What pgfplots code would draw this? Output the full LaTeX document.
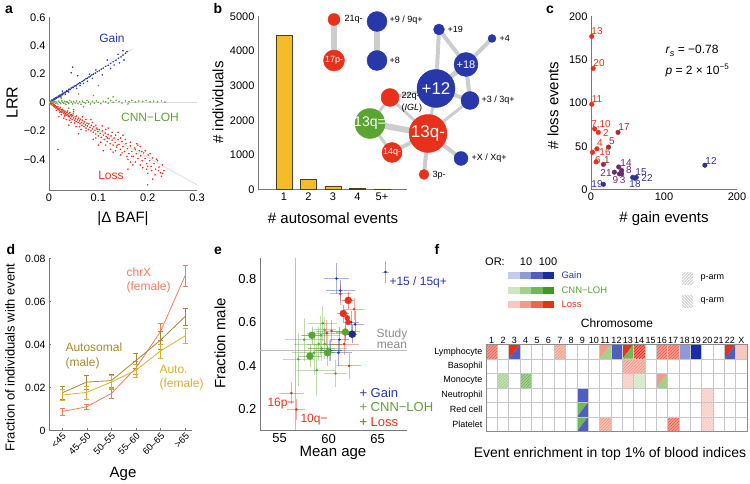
\documentclass[border=0pt]{standalone}
\usepackage{fontspec}
\setmainfont{Liberation Sans}
\usepackage{pgfplots}
\pgfplotsset{compat=1.18}
\usetikzlibrary{patterns}
\definecolor{cgain}{RGB}{40,55,170}
\definecolor{cloh}{RGB}{90,165,50}
\definecolor{closs}{RGB}{232,48,26}
\definecolor{cbar}{RGB}{245,188,40}
\definecolor{cbaredge}{RGB}{80,62,20}
\definecolor{cedge}{RGB}{205,205,205}
\definecolor{cax}{RGB}{120,120,120}
\definecolor{cmaroon}{RGB}{165,40,60}
\definecolor{cpurp}{RGB}{110,40,110}
\definecolor{cbpurp}{RGB}{50,50,150}
\definecolor{cchrx}{RGB}{240,125,95}
\definecolor{cautm}{RGB}{168,137,45}
\definecolor{cautf}{RGB}{218,175,45}
\definecolor{g1}{HTML}{C5CBEA}\definecolor{g2}{HTML}{8E9AD8}\definecolor{g3}{HTML}{4E5FC0}\definecolor{g4}{HTML}{1B2BA5}
\definecolor{l1}{HTML}{CDE6C0}\definecolor{l2}{HTML}{A3D08C}\definecolor{l3}{HTML}{72B858}\definecolor{l4}{HTML}{3E9A20}
\definecolor{r1}{HTML}{F8C8C0}\definecolor{r2}{HTML}{F39A88}\definecolor{r3}{HTML}{EE6550}\definecolor{r4}{HTML}{E8301A}
\newcommand{\fs}[1]{\fontsize{#1}{#1}\selectfont}
\newcommand{\sq}[5]{\addplot[draw=none, fill=#5] coordinates {(#1,#3) (#2,#3) (#2,#4) (#1,#4)} --cycle;}
\newcommand{\sqh}[5]{\addplot[draw=none, fill=#5, postaction={pattern=north east lines, pattern color=white!70!#5}] coordinates {(#1,#3) (#2,#3) (#2,#4) (#1,#4)} --cycle;}
\newcommand{\ul}[5]{\addplot[draw=none, fill=#5] coordinates {(#1,#4) (#2,#4) (#1,#3)} --cycle;}
\newcommand{\lr}[5]{\addplot[draw=none, fill=#5] coordinates {(#2,#4) (#2,#3) (#1,#3)} --cycle;}
\pgfplotsset{
 panel/.style={scale only axis, anchor=south west, axis lines*=left,
   axis line style={draw=cax, line width=0.9pt}, major tick length=0pt, minor tick length=0pt,
   /pgf/number format/assume math mode=true, /pgf/number format/1000 sep={},
   scaled ticks=false, tick label style={font=\fs{11}}, clip=false},
 edge/.style={cedge, line width=#1pt},
 canvas/.style={at={(0pt,0pt)}, anchor=south west, scale only axis, width=750pt, height=483pt,
  xmin=0, xmax=750, ymin=0, ymax=483, y dir=reverse, hide axis, clip=false},
}
\begin{document}
\begin{tikzpicture}
\path (0pt,0pt) rectangle (750pt,483pt);
%================ canvas (pixel coordinates) ================
\begin{axis}[canvas]
% panel letters
\node[font=\fs{14}\bfseries] at (axis cs:9,9) {a};
\node[font=\fs{14}\bfseries] at (axis cs:218,8) {b};
\node[font=\fs{14}\bfseries] at (axis cs:550,9) {c};
\node[font=\fs{14}\bfseries] at (axis cs:11,249) {d};
\node[font=\fs{14}\bfseries] at (axis cs:218,250) {e};
\node[font=\fs{14}\bfseries] at (axis cs:437,249) {f};
% axis labels
\node[font=\fs{16}, rotate=90] at (axis cs:12,102) {LRR};
\node[font=\fs{15}] at (axis cs:123,218) {|Δ BAF|};
\node[font=\fs{15}, rotate=90] at (axis cs:218,102) {\# individuals};
\node[font=\fs{15}] at (axis cs:333,218) {\# autosomal events};
\node[font=\fs{15}, rotate=90] at (axis cs:553,105) {\# loss events};
\node[font=\fs{15}] at (axis cs:664,218) {\# gain events};
\node[font=\fs{13}, rotate=90] at (axis cs:10,357) {Fraction of individuals with event};
\node[font=\fs{15}] at (axis cs:123,473) {Age};
\node[font=\fs{15}, rotate=90] at (axis cs:220,343) {Fraction male};
\node[font=\fs{15}] at (axis cs:333,452) {Mean age};
\node[font=\fs{12}] at (axis cs:617,323) {Chromosome};
\node[font=\fs{14}] at (axis cs:610,453) {Event enrichment in top 1\% of blood indices};
% panel a texts
\node[font=\fs{12}, text=cgain] at (axis cs:112,38) {Gain};
\node[font=\fs{12}, text=cloh] at (axis cs:150,117) {CNN−LOH};
\node[font=\fs{12}, text=closs] at (axis cs:111,175) {Loss};
% network edges
\addplot[edge=6] coordinates {(334,19) (334,60)};
\addplot[edge=6] coordinates {(377,21) (377,60)};
\addplot[edge=4] coordinates {(439,29) (436,88)};
\addplot[edge=4] coordinates {(439,29) (466,64)};
\addplot[edge=4] coordinates {(492,38) (466,64)};
\addplot[edge=5] coordinates {(466,64) (436,88)};
\addplot[edge=4] coordinates {(466,64) (470,100)};
\addplot[edge=4] coordinates {(436,88) (470,100)};
\addplot[edge=3] coordinates {(436,88) (390,97)};
\addplot[edge=3] coordinates {(436,88) (428,133)};
\addplot[edge=3] coordinates {(390,97) (370,123)};
\addplot[edge=3] coordinates {(390,97) (428,133)};
\addplot[edge=6] coordinates {(370,123) (428,133)};
\addplot[edge=3] coordinates {(370,123) (392,152)};
\addplot[edge=4] coordinates {(392,152) (428,133)};
\addplot[edge=4] coordinates {(428,133) (461,158)};
\addplot[edge=4] coordinates {(428,133) (424,174)};
\addplot[edge=3] coordinates {(428,133) (470,100)};
% network nodes
\addplot[only marks, mark=*, closs, mark size=6pt] coordinates {(334,19)};
\addplot[only marks, mark=*, closs, mark size=10.5pt] coordinates {(334,60)};
\addplot[only marks, mark=*, cgain, mark size=10pt] coordinates {(377,21) (377,60)};
\addplot[only marks, mark=*, cgain, mark size=5.5pt] coordinates {(439,29)};
\addplot[only marks, mark=*, cgain, mark size=4pt] coordinates {(492,38)};
\addplot[only marks, mark=*, cgain, mark size=12pt] coordinates {(466,64)};
\addplot[only marks, mark=*, cgain, mark size=19pt] coordinates {(436,88)};
\addplot[only marks, mark=*, cgain, mark size=9pt] coordinates {(470,100)};
\addplot[only marks, mark=*, closs, mark size=9pt] coordinates {(390,97)};
\addplot[only marks, mark=*, cloh, mark size=15pt] coordinates {(370,123)};
\addplot[only marks, mark=*, closs, mark size=19pt] coordinates {(428,133)};
\addplot[only marks, mark=*, closs, mark size=10pt] coordinates {(392,152)};
\addplot[only marks, mark=*, cgain, mark size=7pt] coordinates {(461,158)};
\addplot[only marks, mark=*, closs, mark size=5pt] coordinates {(424,174)};
% network labels (outside nodes)
\node[font=\fs{9}, anchor=west] at (axis cs:341,19) {21q-};
\node[font=\fs{9}, anchor=west] at (axis cs:386,20) {+9 / 9q+};
\node[font=\fs{9}, anchor=west] at (axis cs:386,60) {+8};
\node[font=\fs{9}, anchor=west] at (axis cs:444,29) {+19};
\node[font=\fs{9}, anchor=west] at (axis cs:496,38) {+4};
\node[font=\fs{9}, anchor=west] at (axis cs:478,100) {+3 / 3q+};
\node[font=\fs{9}, anchor=west] at (axis cs:398,96) {22q-};
\node[font=\fs{9}, anchor=west] at (axis cs:398,108) {(\textit{IGL})};
\node[font=\fs{9}, anchor=west] at (axis cs:468,158) {+X / Xq+};
\node[font=\fs{9}, anchor=west] at (axis cs:429,175) {3p-};
% panel c annotations
\node[font=\fs{12}, anchor=west] at (axis cs:662,50) {\textit{r}\raisebox{-0.5ex}{\fs{9}\textit{s}} = −0.78};
\node[font=\fs{12}, anchor=west] at (axis cs:662,70) {\textit{p} = 2 × 10\raisebox{0.8ex}{\fs{8}−5}};
\node[font=\fs{10}, text=closs] at (axis cs:597,31) {13};
\node[font=\fs{10}, text=closs] at (axis cs:599,63) {20};
\node[font=\fs{10}, text=closs] at (axis cs:597,99) {11};
\node[font=\fs{10}, text=closs] at (axis cs:601,124) {7,10};
\node[font=\fs{10}, text=closs] at (axis cs:606,133) {2};
\node[font=\fs{10}, text=cmaroon] at (axis cs:624,127) {17};
\node[font=\fs{10}, text=closs] at (axis cs:600,143) {4};
\node[font=\fs{10}, text=cmaroon] at (axis cs:612,141) {5};
\node[font=\fs{10}, text=closs] at (axis cs:605,152) {16};
\node[font=\fs{10}, text=closs] at (axis cs:598,160) {6};
\node[font=\fs{10}, text=cmaroon] at (axis cs:607,160) {1};
\node[font=\fs{10}, text=cpurp] at (axis cs:626,163) {14};
\node[font=\fs{10}, text=cpurp] at (axis cs:606,173) {21};
\node[font=\fs{10}, text=cpurp] at (axis cs:629,170) {8};
\node[font=\fs{10}, text=cpurp] at (axis cs:619,180) {9\,3};
\node[font=\fs{10}, text=cbpurp] at (axis cs:641,172) {15};
\node[font=\fs{10}, text=cbpurp] at (axis cs:647,178) {22};
\node[font=\fs{10}, text=cbpurp] at (axis cs:635,184) {18};
\node[font=\fs{10}, text=cbpurp] at (axis cs:597,184) {19};
\node[font=\fs{10}, text=cbpurp] at (axis cs:711,161) {12};
% panel d labels
\node[font=\fs{12}, text=cchrx, anchor=west] at (axis cs:123,272) {chrX};
\node[font=\fs{12}, text=cchrx, anchor=west] at (axis cs:123,287) {(female)};
\node[font=\fs{12}, text=cautm, anchor=west] at (axis cs:62,347) {Autosomal};
\node[font=\fs{12}, text=cautm, anchor=west] at (axis cs:62,363) {(male)};
\node[font=\fs{12}, text=cautf, anchor=west] at (axis cs:156,369) {Auto.};
\node[font=\fs{12}, text=cautf, anchor=west] at (axis cs:156,384) {(female)};
% panel e labels
\node[font=\fs{12}, text=cgain, anchor=west] at (axis cs:386,282) {+15 / 15q+};
\node[font=\fs{12}, text=closs, anchor=west] at (axis cs:264,403) {16p−};
\node[font=\fs{12}, text=closs, anchor=west] at (axis cs:297,419) {10q−};
\node[font=\fs{12}, text=black!45, align=center] at (axis cs:392,338) {Study\\[-1pt]mean};
\node[font=\fs{13}, text=cgain, anchor=west] at (axis cs:356,392) {+ Gain};
\node[font=\fs{13}, text=cloh, anchor=west] at (axis cs:356,407) {+ CNN−LOH};
\node[font=\fs{13}, text=closs, anchor=west] at (axis cs:356,422) {+ Loss};
% panel f legend
\node[font=\fs{11}] at (axis cs:495,261) {OR:};
\node[font=\fs{11}] at (axis cs:526,261) {10};
\node[font=\fs{11}] at (axis cs:548,261) {100};
\sq{508}{519.5}{272}{279}{g1}\sq{519.5}{531}{272}{279}{g2}\sq{531}{542.5}{272}{279}{g3}\sq{542.5}{554}{272}{279}{g4}
\sq{508}{519.5}{287}{294}{l1}\sq{519.5}{531}{287}{294}{l2}\sq{531}{542.5}{287}{294}{l3}\sq{542.5}{554}{287}{294}{l4}
\sq{508}{519.5}{301}{308}{r1}\sq{519.5}{531}{301}{308}{r2}\sq{531}{542.5}{301}{308}{r3}\sq{542.5}{554}{301}{308}{r4}
\node[font=\fs{9.5}, text=cgain, anchor=west] at (axis cs:558,275) {Gain};
\node[font=\fs{9.5}, text=cloh, anchor=west] at (axis cs:558,290) {CNN−LOH};
\node[font=\fs{9.5}, text=closs, anchor=west] at (axis cs:558,304) {Loss};
\addplot[draw=none, pattern=north east lines, pattern color=black!30] coordinates {(682,272) (693,272) (693,284) (682,284)} --cycle;
\addplot[draw=none, pattern=north west lines, pattern color=black!30] coordinates {(682,295) (693,295) (693,307) (682,307)} --cycle;
\node[font=\fs{9}, anchor=west] at (axis cs:697,278) {p-arm};
\node[font=\fs{9}, anchor=west] at (axis cs:697,301) {q-arm};
\end{axis}
%================ panel a ================
\begin{axis}[panel, at={(49pt,293pt)}, width=148pt, height=173pt,
  xmin=0, xmax=0.3, ymin=-0.62, ymax=0.6,
  xtick={0,0.1,0.2,0.3}, xticklabels={0,0.1,0.2,0.3},
  ytick={-0.4,-0.2,0,0.2,0.4,0.6}, yticklabels={−0.4,−0.2,0,0.2,0.4,0.6}]
\addplot[black!15, line width=0.7pt] coordinates {(0,0) (0.3,-0.58)};
\addplot[black!15, line width=0.7pt] coordinates {(0,0) (0.3,0)};
\addplot[black!15, line width=0.7pt] coordinates {(0,0) (0.17,0.38)};
\addplot[only marks, mark=*, mark size=0.55pt, cloh] table {
0.003 0.002
0.006 -0.004
0.008 0.006
0.010 -0.002
0.012 0.008
0.014 -0.006
0.016 0.004
0.018 -0.010
0.020 0.010
0.022 0.000
0.024 -0.008
0.026 0.012
0.028 0.003
0.030 -0.005
0.032 0.009
0.034 -0.012
0.036 0.006
0.038 0.002
0.040 -0.007
0.042 0.014
0.045 0.004
0.048 -0.010
0.050 0.008
0.053 -0.003
0.056 0.011
0.059 -0.008
0.062 0.006
0.065 -0.012
0.068 0.010
0.071 0.001
0.074 -0.006
0.077 0.015
0.080 0.004
0.084 -0.010
0.088 0.009
0.092 -0.004
0.096 0.012
0.100 0.002
0.105 -0.008
0.110 0.010
0.115 0.005
0.120 -0.006
0.125 0.013
0.130 0.003
0.136 0.016
0.142 0.008
0.148 -0.004
0.155 0.012
0.162 0.006
0.168 0.015
0.175 0.004
0.182 0.011
0.190 0.008
0.197 0.014
0.205 0.005
0.212 0.010
0.220 0.006
0.228 0.012
0.235 0.004
0.060 0.060
0.040 -0.040
0.090 0.050
0.025 0.030
0.100 0.120
0.070 -0.030
0.130 0.040
0.050 -0.050
0.160 -0.010
0.120 0.030
};
\addplot[only marks, mark=*, mark size=0.55pt, cgain] table {
0.004 0.010
0.006 0.018
0.008 0.014
0.009 0.024
0.011 0.028
0.012 0.020
0.013 0.033
0.015 0.030
0.016 0.038
0.018 0.036
0.019 0.045
0.021 0.042
0.022 0.052
0.024 0.050
0.025 0.058
0.027 0.055
0.028 0.066
0.030 0.062
0.031 0.072
0.033 0.070
0.035 0.078
0.036 0.083
0.038 0.080
0.040 0.090
0.041 0.095
0.043 0.092
0.045 0.102
0.047 0.108
0.049 0.105
0.051 0.115
0.053 0.120
0.055 0.118
0.057 0.128
0.060 0.133
0.062 0.140
0.064 0.137
0.067 0.148
0.070 0.155
0.072 0.160
0.075 0.168
0.078 0.172
0.081 0.180
0.084 0.186
0.087 0.195
0.090 0.200
0.094 0.208
0.098 0.218
0.102 0.224
0.106 0.236
0.110 0.243
0.115 0.255
0.120 0.262
0.125 0.275
0.130 0.288
0.136 0.298
0.141 0.312
0.146 0.322
0.150 0.335
0.155 0.348
0.158 0.360
0.048 0.250
0.045 0.210
0.058 0.190
0.070 0.135
0.088 0.170
0.095 0.230
0.118 0.300
0.132 0.265
0.143 0.280
0.150 0.365
0.152 0.300
0.108 0.195
0.078 0.150
0.063 0.120
0.033 0.058
0.024 0.040
0.056 0.100
0.082 0.200
0.125 0.240
0.140 0.340
0.027 0.080
0.040 0.075
};
\addplot[only marks, mark=*, mark size=0.55pt, closs] table {
0.003 -0.008
0.005 -0.015
0.006 -0.005
0.008 -0.020
0.009 -0.012
0.010 -0.028
0.011 -0.018
0.012 -0.032
0.013 -0.024
0.014 -0.040
0.015 -0.030
0.016 -0.036
0.017 -0.045
0.018 -0.028
0.019 -0.050
0.020 -0.040
0.021 -0.058
0.022 -0.046
0.023 -0.035
0.024 -0.062
0.025 -0.052
0.026 -0.070
0.027 -0.048
0.028 -0.060
0.029 -0.075
0.030 -0.056
0.031 -0.068
0.032 -0.082
0.033 -0.062
0.034 -0.078
0.035 -0.090
0.036 -0.070
0.037 -0.085
0.038 -0.060
0.039 -0.095
0.040 -0.080
0.041 -0.100
0.042 -0.072
0.043 -0.090
0.044 -0.110
0.045 -0.085
0.046 -0.098
0.047 -0.120
0.048 -0.092
0.049 -0.080
0.050 -0.108
0.052 -0.125
0.053 -0.100
0.054 -0.115
0.055 -0.135
0.056 -0.095
0.058 -0.122
0.059 -0.140
0.060 -0.110
0.062 -0.130
0.063 -0.150
0.064 -0.118
0.066 -0.140
0.067 -0.160
0.068 -0.125
0.070 -0.148
0.071 -0.170
0.072 -0.135
0.074 -0.158
0.075 -0.180
0.077 -0.145
0.078 -0.165
0.080 -0.190
0.081 -0.150
0.083 -0.175
0.085 -0.200
0.086 -0.160
0.088 -0.185
0.090 -0.210
0.091 -0.170
0.093 -0.195
0.095 -0.222
0.097 -0.180
0.099 -0.205
0.100 -0.235
0.102 -0.190
0.104 -0.218
0.106 -0.245
0.108 -0.200
0.110 -0.230
0.112 -0.260
0.114 -0.215
0.116 -0.240
0.118 -0.275
0.120 -0.225
0.122 -0.255
0.124 -0.290
0.126 -0.235
0.128 -0.265
0.130 -0.300
0.132 -0.250
0.134 -0.280
0.137 -0.315
0.140 -0.260
0.142 -0.295
0.145 -0.330
0.148 -0.275
0.150 -0.310
0.153 -0.345
0.156 -0.290
0.159 -0.325
0.162 -0.360
0.165 -0.305
0.168 -0.345
0.171 -0.380
0.174 -0.320
0.177 -0.360
0.180 -0.395
0.183 -0.340
0.186 -0.375
0.189 -0.410
0.192 -0.355
0.195 -0.395
0.198 -0.430
0.201 -0.370
0.204 -0.410
0.207 -0.450
0.210 -0.390
0.213 -0.430
0.216 -0.470
0.220 -0.410
0.223 -0.455
0.226 -0.495
0.230 -0.440
0.233 -0.480
0.020 -0.100
0.040 -0.160
0.060 -0.220
0.100 -0.300
0.120 -0.180
0.150 -0.230
0.180 -0.300
0.200 -0.500
0.085 -0.120
0.050 -0.065
0.030 -0.110
0.130 -0.350
0.170 -0.440
0.210 -0.540
0.110 -0.340
0.090 -0.260
0.065 -0.190
0.140 -0.210
0.025 -0.085
0.045 -0.140
0.035 -0.120
0.055 -0.170
0.075 -0.120
0.095 -0.160
0.105 -0.280
0.115 -0.190
0.125 -0.330
0.135 -0.230
0.145 -0.370
0.155 -0.260
0.160 -0.400
0.165 -0.280
0.175 -0.420
0.185 -0.310
0.190 -0.460
0.195 -0.340
0.200 -0.450
0.205 -0.360
0.215 -0.510
0.218 -0.400
0.222 -0.480
0.228 -0.520
0.185 -0.440
0.175 -0.330
0.165 -0.420
0.145 -0.250
0.135 -0.340
0.115 -0.300
0.095 -0.250
0.075 -0.200
0.062 -0.170
0.052 -0.145
0.042 -0.125
0.032 -0.095
0.022 -0.070
0.015 -0.055
0.068 -0.100
0.088 -0.140
0.108 -0.165
0.128 -0.210
0.148 -0.355
0.168 -0.380
0.188 -0.345
0.208 -0.480
0.198 -0.470
0.178 -0.290
0.158 -0.380
0.138 -0.300
0.118 -0.250
0.098 -0.190
0.018 -0.330
0.200 -0.580
0.160 -0.470
0.230 -0.500
};
\end{axis}
%================ panel b ================
\begin{axis}[panel, at={(258pt,294pt)}, width=149pt, height=173pt,
  xmin=-0.06, xmax=6.02, ymin=0, ymax=5000, ytick={0,1000,...,5000},
  xtick={1,2,3,4,5}, xticklabels={1,2,3,4,5+}]
\addplot[ybar, bar width=16pt, fill=cbar, draw=cbaredge, line width=0.6pt] coordinates {(1,4450) (2,280) (3,105) (4,30) (5,15)};
\end{axis}
%================ panel c ================
\begin{axis}[panel, at={(591pt,294pt)}, width=146pt, height=173pt,
  xmin=0, xmax=200, ymin=0, ymax=200, xtick={0,100,200}, ytick={0,50,...,200}]
\addplot[only marks, mark=*, mark size=2.3pt, closs] coordinates {(1,177) (3,140) (1,98.5) (5,70) (10,66) (8,47) (2,43) (7,32)};
\addplot[only marks, mark=*, mark size=2.3pt, cmaroon] coordinates {(37,66) (24,49) (17,29)};
\addplot[only marks, mark=*, mark size=2.3pt, cpurp] coordinates {(38,26) (32,20) (42,22) (39,18) (42,18)};
\addplot[only marks, mark=*, mark size=2.3pt, cbpurp] coordinates {(57,14) (62,14) (60,13) (17,6) (156,28)};
\end{axis}
%================ panel d ================
\begin{axis}[panel, at={(49pt,53pt)}, width=143pt, height=172pt,
  xmin=-0.53, xmax=5.28, ymin=0, ymax=0.08,
  ytick={0,0.02,0.04,0.06,0.08}, yticklabels={0,0.02,0.04,0.06,0.08},
  xtick={0,...,5}, xticklabels={<45,45–50,50–55,55–60,60–65,>65},
  x tick label style={rotate=45, anchor=north east, font=\fs{9.5}, inner sep=1pt}, y tick label style={font=\fs{10.5}},
  xtick style={draw=cax}, major tick length=2pt]
\addplot[cchrx, line width=0.8pt, mark=none, error bars/.cd, y dir=both, y explicit, error mark options={rotate=90, mark size=2.5pt}] table[x=x, y=y, y error=e] {
x y e
0 0.0088 0.0015
1 0.0110 0.0012
2 0.0172 0.0022
3 0.0290 0.0030
4 0.0460 0.0040
5 0.0720 0.0048
};
\addplot[cautm, line width=0.8pt, mark=none, error bars/.cd, y dir=both, y explicit, error mark options={rotate=90, mark size=2.5pt}] table[x=x, y=y, y error=e] {
x y e
0 0.0175 0.0030
1 0.0225 0.0032
2 0.0232 0.0030
3 0.0325 0.0035
4 0.0420 0.0040
5 0.0530 0.0040
};
\addplot[cautf, line width=0.8pt, mark=none, error bars/.cd, y dir=both, y explicit, error mark options={rotate=90, mark size=2.5pt}] table[x=x, y=y, y error=e] {
x y e
0 0.0165 0.0025
1 0.0177 0.0030
2 0.0225 0.0030
3 0.0280 0.0030
4 0.0370 0.0032
5 0.0440 0.0035
};
\end{axis}
%================ panel e ================
\begin{axis}[panel, at={(260pt,53pt)}, width=147pt, height=172pt,
  xmin=53, xmax=68, ymin=0.104, ymax=0.892,
  xtick={55,60,65}, ytick={0.2,0.4,0.6,0.8}, yticklabels={0.2,0.4,0.6,0.8},
  tick label style={font=\fs{13}}]
\addplot[black!25, line width=0.8pt] coordinates {(56.6,0.104) (56.6,0.892)};
\addplot[black!25, line width=0.8pt] coordinates {(53,0.47) (68,0.47)};
\addplot[only marks, mark=*, mark size=1.1pt, cloh, error bars/.cd, x dir=both, x explicit, y dir=both, y explicit, error mark=none, error bar style={cloh, opacity=0.4, line width=0.8pt}] table[x=x, y=y, x error=ex, y error=ey] {
x y ex ey
59.4 0.595 1.5 0.08
59.2 0.54 2.0 0.09
59.6 0.565 1.2 0.06
59.0 0.50 2.5 0.08
59.6 0.50 1.8 0.07
59.9 0.48 2.0 0.08
60.1 0.47 1.5 0.05
60.7 0.365 1.2 0.06
56.9 0.43 1.6 0.12
58.5 0.46 2.2 0.10
59.3 0.48 1.4 0.06
57.5 0.52 2.0 0.10
58.8 0.38 2.0 0.12
};
\addplot[only marks, mark=*, mark size=1.1pt, closs, error bars/.cd, x dir=both, x explicit, y dir=both, y explicit, error mark=none, error bar style={closs, opacity=0.4, line width=0.8pt}] table[x=x, y=y, x error=ex, y error=ey] {
x y ex ey
61.2 0.73 1.1 0.05
62.6 0.66 1.0 0.05
62.1 0.40 1.2 0.06
61.7 0.56 1.5 0.05
60.3 0.56 1.6 0.05
59.8 0.55 2.0 0.06
61.6 0.50 1.5 0.05
56.2 0.275 1.3 0.05
56.7 0.20 0.9 0.05
};
\addplot[only marks, mark=*, mark size=1.1pt, cgain, error bars/.cd, x dir=both, x explicit, y dir=both, y explicit, error mark=none, error bar style={cgain, opacity=0.4, line width=0.8pt}] table[x=x, y=y, x error=ex, y error=ey] {
x y ex ey
60.8 0.80 1.3 0.07
61.2 0.745 1.5 0.05
61.1 0.52 1.0 0.06
61.0 0.46 1.4 0.06
60.2 0.47 1.2 0.05
62.3 0.60 0.8 0.05
62.7 0.59 0.9 0.06
65.8 0.83 0.4 0.05
};
\addplot[only marks, mark=*, mark size=3.5pt, cloh, error bars/.cd, x dir=both, x explicit, y dir=both, y explicit, error mark=none, error bar style={cloh, opacity=0.5, line width=0.8pt}] table[x=x, y=y, x error=ex, y error=ey] {
x y ex ey
58.3 0.54 1.0 0.04
58.1 0.445 1.2 0.05
59.9 0.46 0.8 0.03
61.7 0.555 0.9 0.04
};
\addplot[only marks, mark=*, mark size=3.5pt, closs, error bars/.cd, x dir=both, x explicit, y dir=both, y explicit, error mark=none, error bar style={closs, opacity=0.5, line width=0.8pt}] table[x=x, y=y, x error=ex, y error=ey] {
x y ex ey
62.0 0.70 0.6 0.04
61.5 0.64 0.6 0.04
};
\addplot[only marks, mark=*, mark size=2.5pt, closs] coordinates {(61.9,0.62) (62.0,0.60)};
\addplot[only marks, mark=*, mark size=3.5pt, cgain!80!black, error bars/.cd, x dir=both, x explicit, y dir=both, y explicit, error mark=none, error bar style={cgain, opacity=0.5, line width=0.8pt}] table[x=x, y=y, x error=ex, y error=ey] {
x y ex ey
62.4 0.545 0.5 0.04
};
\end{axis}
%================ panel f heatmap ================
\begin{axis}[scale only axis, anchor=south west, at={(486pt,52pt)}, width=261pt, height=87pt,
  xmin=0.5, xmax=23.5, ymin=0.5, ymax=6.5, axis on top,
  xtick={1,...,23}, xticklabels={1,2,3,4,5,6,7,8,9,10,11,12,13,14,15,16,17,18,19,20,21,22,X},
  xticklabel pos=upper, ytick={1,...,6},
  yticklabels={Platelet,Red cell,Neutrophil,Monocyte,Basophil,Lymphocyte},
  x tick label style={font=\fs{9}, inner sep=1pt}, y tick label style={font=\fs{9}},
  major tick length=0pt, minor tick length=0pt,
  minor xtick={1.5,2.5,...,22.5}, minor ytick={1.5,2.5,...,5.5},
  xminorgrids=true, yminorgrids=true, minor grid style={draw=black!22, line width=0.5pt},
  axis line style={draw=black!45, line width=0.6pt}]
% Lymphocyte (y=6)
\sqh{0.5}{1.5}{5.5}{6.5}{r3}
\ul{2.5}{3.5}{5.5}{6.5}{r4}\lr{2.5}{3.5}{5.5}{6.5}{g3}
\sqh{6.5}{7.5}{5.5}{6.5}{r2}
\ul{10.5}{11.5}{5.5}{6.5}{r2}\lr{10.5}{11.5}{5.5}{6.5}{l2}
\sq{11.5}{12.5}{5.5}{6.5}{g3}
\ul{12.5}{13.5}{5.5}{6.5}{r4}\lr{12.5}{13.5}{5.5}{6.5}{l3}
\sqh{13.5}{14.5}{5.5}{6.5}{r4}
\sqh{15.5}{16.5}{5.5}{6.5}{r3}
\sqh{16.5}{17.5}{5.5}{6.5}{r3}
\sq{17.5}{18.5}{5.5}{6.5}{g2}
\sq{18.5}{19.5}{5.5}{6.5}{g4}
\ul{21.5}{22.5}{5.5}{6.5}{r4}\lr{21.5}{22.5}{5.5}{6.5}{g3}
\sq{22.5}{23.5}{5.5}{6.5}{r1}
% Basophil (y=5)
\sqh{12.5}{13.5}{4.5}{5.5}{r2}
\sqh{13.5}{14.5}{4.5}{5.5}{r2}
% Monocyte (y=4)
\sqh{1.5}{2.5}{3.5}{4.5}{l2}
\sqh{3.5}{4.5}{3.5}{4.5}{l3}
\sqh{12.5}{13.5}{3.5}{4.5}{r1}
\sqh{13.5}{14.5}{3.5}{4.5}{l1}
\ul{15.5}{16.5}{3.5}{4.5}{r2}\lr{15.5}{16.5}{3.5}{4.5}{l2}
% Neutrophil (y=3)
\sq{8.5}{9.5}{2.5}{3.5}{g3}
\sqh{19.5}{20.5}{2.5}{3.5}{r1}
% Red cell (y=2)
\ul{8.5}{9.5}{1.5}{2.5}{l3}\lr{8.5}{9.5}{1.5}{2.5}{g3}
\sqh{19.5}{20.5}{1.5}{2.5}{r1}
% Platelet (y=1)
\ul{8.5}{9.5}{0.5}{1.5}{l3}\lr{8.5}{9.5}{0.5}{1.5}{g3}
\sqh{10.5}{11.5}{0.5}{1.5}{r2}
\sqh{16.5}{17.5}{0.5}{1.5}{r3}
\sqh{19.5}{20.5}{0.5}{1.5}{r1}
\end{axis}
%================ overlay: labels inside network nodes ================
\begin{axis}[canvas]
\node[font=\fs{9}, text=white] at (axis cs:334,60) {17p-};
\node[font=\fs{11}, text=white] at (axis cs:466,64) {+18};
\node[font=\fs{17}, text=white] at (axis cs:436,88) {+12};
\node[font=\fs{14}, text=white] at (axis cs:370,123) {13q=};
\node[font=\fs{17}, text=white] at (axis cs:428,133) {13q-};
\node[font=\fs{9}, text=white] at (axis cs:392,152) {14q-};
\end{axis}
\end{tikzpicture}
\end{document}
